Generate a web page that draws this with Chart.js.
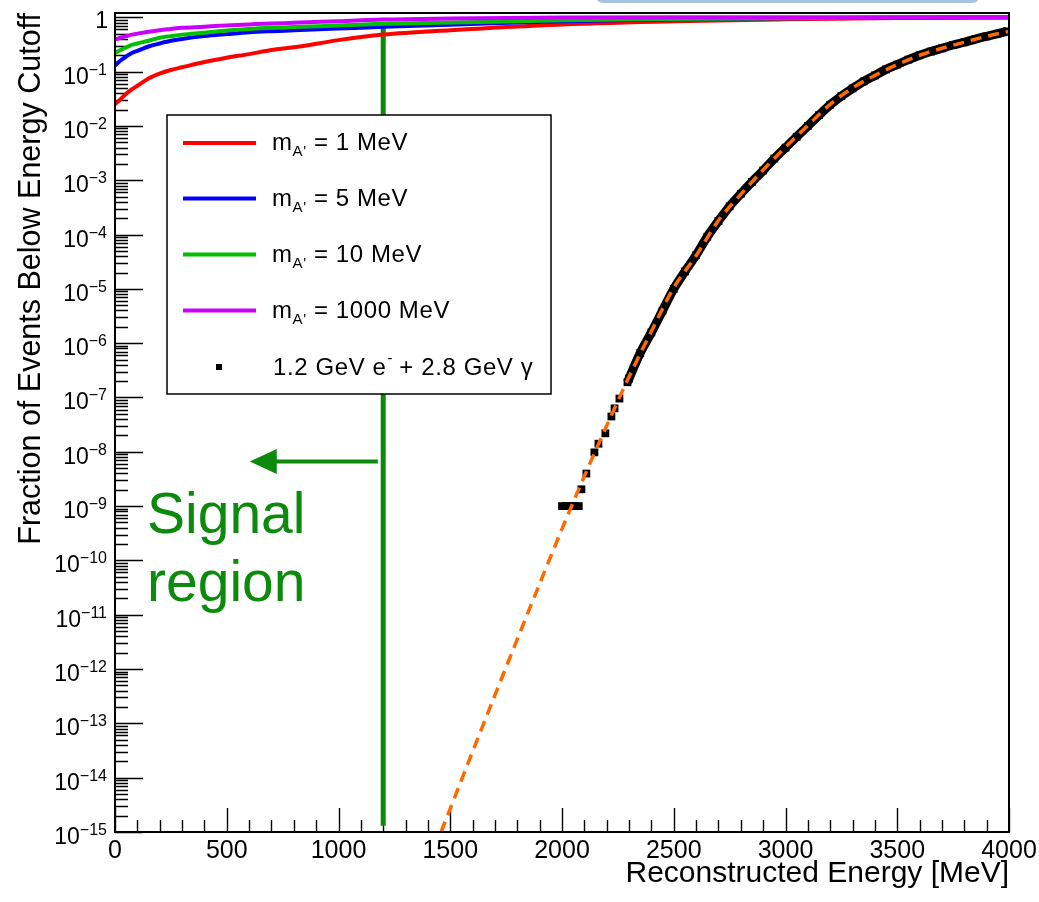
<!DOCTYPE html>
<html><head><meta charset="utf-8">
<script src="https://cdn.jsdelivr.net/npm/chart.js@4/dist/chart.umd.min.js"></script>
<style>html,body{margin:0;padding:0;background:#fff}canvas{display:block}</style>
</head><body>
<canvas id="c" width="1039" height="902"></canvas>
<script>
// ---------------- data ----------------
const signalEnergy = [0, 25, 50, 75, 100, 150, 200, 250, 300, 400, 500, 600, 700, 800, 1000, 1200, 1500, 2000, 2500, 3000, 3500, 4000];
const fracM1    = [0.025, 0.031, 0.039, 0.047, 0.055, 0.075, 0.092, 0.107, 0.12, 0.15, 0.18, 0.21, 0.25, 0.28, 0.38, 0.48, 0.58, 0.74, 0.85, 0.92, 0.97, 0.995];
const fracM5    = [0.13, 0.16, 0.19, 0.22, 0.24, 0.29, 0.33, 0.37, 0.40, 0.45, 0.49, 0.53, 0.555, 0.575, 0.62, 0.67, 0.73, 0.85, 0.92, 0.96, 0.985, 1.0];
const fracM10   = [0.22, 0.25, 0.28, 0.31, 0.33, 0.37, 0.42, 0.45, 0.48, 0.52, 0.57, 0.61, 0.64, 0.66, 0.71, 0.76, 0.80, 0.88, 0.93, 0.965, 0.99, 1.0];
const fracM1000 = [0.39, 0.42, 0.45, 0.48, 0.50, 0.54, 0.58, 0.61, 0.64, 0.67, 0.71, 0.74, 0.77, 0.79, 0.85, 0.91, 0.95, 0.99, 1.0, 1.0, 1.0, 1.0];

const bgEnergy = [2000, 2015, 2030, 2045, 2060, 2075, 2087, 2109, 2145, 2163, 2194, 2221, 2235, 2257, 2293,
  2300, 2350, 2400, 2450, 2500, 2550, 2600, 2650, 2700, 2750, 2800, 2850, 2900, 2950, 3000, 3050, 3100, 3150,
  3200, 3250, 3300, 3350, 3400, 3450, 3500, 3550, 3600, 3650, 3700, 3750, 3800, 3850, 3900, 3950, 3990];
const bgFraction = [1e-9, 1e-9, 1e-9, 1e-9, 1e-9, 1e-9, 2.04e-9, 3.98e-9, 9.77e-9, 1.41e-8, 2.19e-8, 4.47e-8, 6.31e-8, 9.55e-8, 1.91e-7,
  2.24e-7, 6.61e-7, 1.58e-6, 3.98e-6, 1.0e-5, 2.09e-5, 4.17e-5, 9.12e-5, 1.78e-4, 3.31e-4, 5.62e-4, 9.33e-4, 1.51e-3, 2.51e-3, 3.98e-3, 6.31e-3, 1.0e-2, 1.58e-2,
  2.45e-2, 3.55e-2, 4.90e-2, 6.61e-2, 8.51e-2, 0.110, 0.135, 0.166, 0.20, 0.234, 0.269, 0.309, 0.347, 0.398, 0.447, 0.50, 0.55];

const fitEnergy = [1459, 1500, 1600, 1700, 1800, 1900, 2000, 2100, 2200, 2300, 2400, 2500, 2600, 2700, 2800, 2900, 3000, 3100, 3200, 3300, 3400, 3500, 3600, 3700, 3800, 3900, 4000];
const fitFraction = [1e-15, 2.69e-15, 3.02e-14, 3.31e-13, 3.55e-12, 3.72e-11, 3.80e-10, 3.55e-9, 3.02e-8, 2.40e-7, 1.66e-6, 1.05e-5, 4.07e-5, 1.82e-4, 5.50e-4, 1.55e-3, 4.07e-3, 1.02e-2, 2.51e-2, 5.01e-2, 8.51e-2, 0.135, 0.20, 0.269, 0.347, 0.447, 0.55];

const cutEnergy = 1200;
const cutFraction = [0.8, 1.3e-15];
const arrowEnergy = [1176, 603];
const arrowFraction = 6.6e-9;

const xTickValues = [0, 500, 1000, 1500, 2000, 2500, 3000, 3500, 4000];
const yTickExponents = [0, -1, -2, -3, -4, -5, -6, -7, -8, -9, -10, -11, -12, -13, -14, -15];

const seriesLabels = ['m_A\' = 1 MeV', 'm_A\' = 5 MeV', 'm_A\' = 10 MeV', 'm_A\' = 1000 MeV', '1.2 GeV e- + 2.8 GeV γ'];
const seriesMasses = ['1', '5', '10', '1000'];
const seriesColors = ['#ff0000', '#0000ff', '#00c000', '#cc00ff'];

// ---------------- helpers ----------------
const FONT = '"Liberation Sans", Arial, Helvetica, sans-serif';
const GREEN_DARK = '#0b8a0b';
const pts = (xs, ys) => xs.map((x, i) => ({x, y: ys[i]}));

const rootAxes = {
  id: 'rootAxes',
  beforeDatasetsDraw(chart) {
    const {ctx, chartArea: a, scales: {x, y}} = chart;
    ctx.save();
    ctx.strokeStyle = '#000';
    ctx.lineWidth = 1.4;
    ctx.beginPath();
    for (let d = -15; d <= 0; d++) {
      for (let m = 1; m <= 9; m++) {
        const v = m * Math.pow(10, d);
        if (v > 1.2) continue;
        const py = Math.round(y.getPixelForValue(v)) + 0.5;
        const len = m === 1 ? 28 : 13;
        ctx.moveTo(a.left, py); ctx.lineTo(a.left + len, py);
      }
    }
    for (let v = 0; v <= 4000; v += 100) {
      const px = Math.round(x.getPixelForValue(v)) + 0.5;
      const len = v % 500 === 0 ? 24 : 12;
      ctx.moveTo(px, a.bottom); ctx.lineTo(px, a.bottom - len);
    }
    ctx.stroke();
    ctx.restore();
  },
  afterDatasetsDraw(chart) {
    const {ctx, chartArea: a, scales: {x, y}} = chart;
    ctx.save();
    ctx.strokeStyle = '#000';
    ctx.lineWidth = 2;
    ctx.strokeRect(a.left, a.top, a.right - a.left, a.bottom - a.top);

    // y tick labels
    ctx.fillStyle = '#000';
    ctx.textBaseline = 'alphabetic';
    yTickExponents.forEach(e => {
      const py = y.getPixelForValue(Math.pow(10, e));
      if (e === 0) {
        ctx.font = '23px ' + FONT;
        ctx.textAlign = 'right';
        ctx.fillText('1', 108, py + 11);
      } else {
        const expTxt = '\u2212' + String(-e);
        ctx.font = '16px ' + FONT;
        ctx.textAlign = 'right';
        ctx.fillText(expTxt, 107, py + 3);
        const w = ctx.measureText(expTxt).width;
        ctx.font = '23px ' + FONT;
        ctx.fillText('10', 107 - w, py + 12);
      }
    });

    // arrow
    const ay = y.getPixelForValue(arrowFraction);
    const ax0 = x.getPixelForValue(arrowEnergy[0]);
    const ax1 = x.getPixelForValue(arrowEnergy[1]);
    ctx.strokeStyle = GREEN_DARK; ctx.fillStyle = GREEN_DARK;
    ctx.lineWidth = 4;
    ctx.beginPath(); ctx.moveTo(ax0, ay); ctx.lineTo(ax1 + 20, ay); ctx.stroke();
    ctx.beginPath(); ctx.moveTo(ax1, ay); ctx.lineTo(ax1 + 27, ay - 12.5); ctx.lineTo(ax1 + 27, ay + 12.5); ctx.closePath(); ctx.fill();

    ctx.font = '57px ' + FONT;
    ctx.textAlign = 'left';
    ctx.fillText('Signal', 147, 533);
    ctx.fillText('region', 147, 601);

    // legend
    const L = {x: 167, y: 115, w: 384, h: 279};
    ctx.fillStyle = '#fff';
    ctx.fillRect(L.x, L.y, L.w, L.h);
    ctx.strokeStyle = '#000'; ctx.lineWidth = 1.5;
    ctx.strokeRect(L.x, L.y, L.w, L.h);
    const rowY = [143, 198.5, 254.5, 310.5, 367];
    ctx.letterSpacing = '0.6px';
    seriesMasses.forEach((m, i) => {
      ctx.strokeStyle = seriesColors[i]; ctx.lineWidth = 4;
      ctx.beginPath(); ctx.moveTo(183, rowY[i]); ctx.lineTo(256, rowY[i]); ctx.stroke();
      let tx = 272; const base = rowY[i] + 7;
      ctx.fillStyle = '#000';
      ctx.font = '24px ' + FONT; ctx.textAlign = 'left';
      ctx.fillText('m', tx, base); tx += ctx.measureText('m').width;
      ctx.font = '15px ' + FONT;
      ctx.fillText('A\'', tx, base + 6); tx += ctx.measureText('A\'').width;
      ctx.font = '24px ' + FONT;
      ctx.fillText(' = ' + m + ' MeV', tx, base);
    });
    ctx.fillStyle = '#000';
    ctx.fillRect(216, rowY[4] - 3, 6, 6);
    let tx = 273; const base = rowY[4] + 8;
    ctx.font = '24px ' + FONT;
    ctx.fillText('1.2 GeV e', tx, base); tx += ctx.measureText('1.2 GeV e').width;
    ctx.font = '15px ' + FONT;
    ctx.fillText('-', tx + 1, base - 12); tx += ctx.measureText('-').width;
    ctx.font = '24px ' + FONT;
    ctx.fillText(' + 2.8 GeV \u03b3', tx, base);
    ctx.letterSpacing = '0px';
    ctx.restore();
  },
  afterDraw(chart) {
    const {ctx} = chart;
    ctx.save();
    ctx.strokeStyle = '#a9c2e2';
    ctx.lineWidth = 3;
    ctx.lineCap = 'round';
    ctx.beginPath();
    ctx.moveTo(597, -6); ctx.quadraticCurveTo(597, 1.5, 604, 1.5);
    ctx.lineTo(972, 1.5); ctx.quadraticCurveTo(978, 1.5, 978, -6);
    ctx.stroke();
    ctx.restore();
  }
};

const lineDs = (label, xs, ys, color, order) => ({
  label, data: pts(xs, ys), borderColor: color, backgroundColor: color,
  borderWidth: 4, pointRadius: 0, cubicInterpolationMode: 'monotone', order
});

new Chart(document.getElementById('c'), {
  type: 'line',
  data: {
    datasets: [
      {label: 'cut', data: [{x: cutEnergy, y: cutFraction[0]}, {x: cutEnergy, y: cutFraction[1]}],
       borderColor: GREEN_DARK, borderWidth: 5, pointRadius: 0, order: 10},
      lineDs(seriesLabels[0], signalEnergy, fracM1, seriesColors[0], 9),
      lineDs(seriesLabels[1], signalEnergy, fracM5, seriesColors[1], 8),
      lineDs(seriesLabels[2], signalEnergy, fracM10, seriesColors[2], 7),
      lineDs(seriesLabels[3], signalEnergy, fracM1000, seriesColors[3], 6),
      {label: seriesLabels[4], data: pts(bgEnergy, bgFraction), order: 5,
       borderColor: '#000', backgroundColor: '#000', borderWidth: 9,
       pointStyle: 'rect', pointRadius: 5.5, pointBorderWidth: 0, pointHoverRadius: 5.5,
       cubicInterpolationMode: 'monotone',
       segment: {borderColor: c => c.p0.parsed.x < 2290 ? 'rgba(0,0,0,0)' : '#000'}},
      {label: 'fit', data: pts(fitEnergy, fitFraction), order: 4,
       borderColor: '#ff6a00', borderWidth: 3.5, borderDash: [11, 7], pointRadius: 0,
       cubicInterpolationMode: 'monotone'}
    ]
  },
  options: {
    responsive: false, animation: false, devicePixelRatio: 1,
    layout: {padding: {top: 13, right: 30, left: 0, bottom: 0}},
    plugins: {legend: {display: false}, tooltip: {enabled: false}},
    events: [],
    scales: {
      x: {
        type: 'linear', min: 0, max: 4000, position: 'bottom',
        grid: {display: false, drawTicks: false}, border: {display: false},
        afterBuildTicks: s => { s.ticks = xTickValues.map(v => ({value: v})); },
        ticks: {color: '#000', font: {family: FONT, size: 25}, padding: 4, maxRotation: 0, autoSkip: false,
                callback: v => String(v)},
        title: {display: true, text: 'Reconstructed Energy [MeV]', align: 'end', color: '#000',
                font: {family: FONT, size: 30}, padding: {top: 0, bottom: 10}},
        afterFit: s => { s.height = 70; s.paddingLeft = 0; s.paddingRight = 0; }
      },
      y: {
        type: 'logarithmic', min: 1e-15, max: 1.2, position: 'left',
        grid: {display: false, drawTicks: false}, border: {display: false},
        ticks: {display: false},
        title: {display: true, text: 'Fraction of Events Below Energy Cutoff', align: 'end', color: '#000',
                font: {family: FONT, size: 30.5}, padding: {top: 13, bottom: 0}},
        afterFit: s => { s.width = 115; s.paddingTop = 0; s.paddingBottom = 0; }
      }
    }
  },
  plugins: [rootAxes]
});
</script>
</body></html>
